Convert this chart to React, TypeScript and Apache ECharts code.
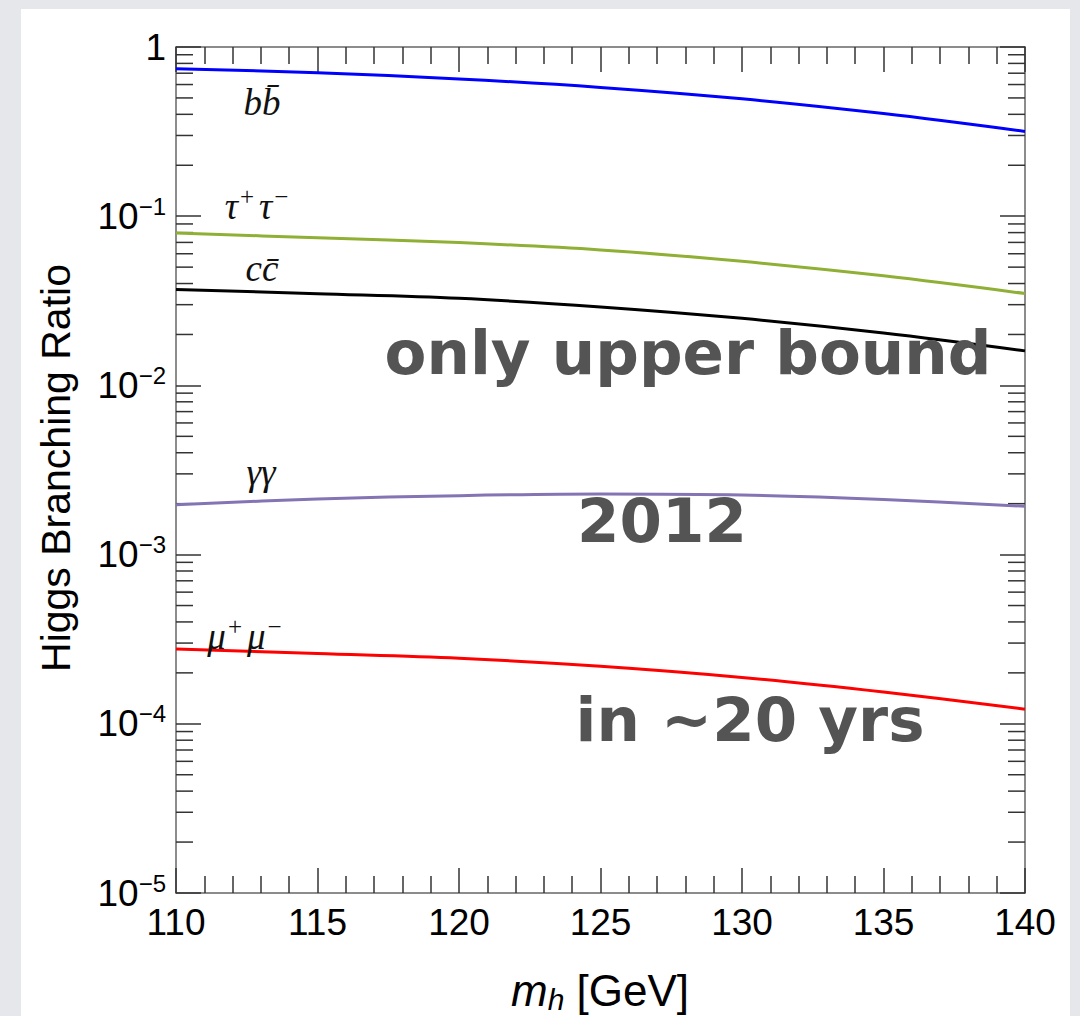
import React, { useEffect, useRef } from "react";
import * as echarts from "echarts";

const massValues = [110, 115, 120, 125, 130, 135, 140];
const bbValues = [0.745, 0.704, 0.648, 0.577, 0.494, 0.404, 0.317];
const tautauValues = [0.0795, 0.0746, 0.0698, 0.0632, 0.0541, 0.0444, 0.0349];
const ccValues = [0.0369, 0.0348, 0.0327, 0.0291, 0.0249, 0.0204, 0.016];
const gamgamValues = [0.00197, 0.00213, 0.00223, 0.00228, 0.00225, 0.00212, 0.00193];
const mumuValues = [0.000277, 0.00026, 0.000244, 0.000219, 0.000188, 0.000154, 0.000122];

const xTickLabels = ["110", "115", "120", "125", "130", "135", "140"];
const yDecades = [-5, -4, -3, -2, -1, 0];
const minorMultipliers = [2, 3, 4, 5, 6, 7, 8, 9];

const AXIS_COLOR = "#666";
const TICK_COLOR = "#333";

export default function App() {
  const ref = useRef<HTMLDivElement>(null);

  useEffect(() => {
    if (!ref.current) return;
    const chart = echarts.init(ref.current, null, { renderer: "svg" });

    const pairs = (vals: number[]) => massValues.map((m, i) => [m, vals[i]]);

    const minorTicks: number[][] = [];
    yDecades.slice(0, -1).forEach((d) => {
      minorMultipliers.forEach((m) => minorTicks.push([110, m * Math.pow(10, d)]));
    });

    const tickFont = "Liberation Sans, Arial, sans-serif";

    const lineSeries = (name: string, vals: number[], color: string) => ({
      name,
      type: "line",
      data: pairs(vals),
      smooth: 0.35,
      showSymbol: false,
      symbol: "none",
      lineStyle: { color, width: 3 },
      z: 5,
    });

    const xAxisBase = {
      type: "value",
      min: 110,
      max: 140,
      interval: 5,
      splitLine: { show: false },
      axisLine: { show: true, onZero: false, lineStyle: { color: AXIS_COLOR, width: 1.5 } },
      axisTick: { show: true, inside: true, length: 25, lineStyle: { color: TICK_COLOR, width: 1.5 } },
      minorTick: { show: true, splitNumber: 5, length: 17, lineStyle: { color: TICK_COLOR, width: 1.5 } },
    };

    const yAxisBase = {
      type: "log",
      logBase: 10,
      min: 1e-5,
      max: 1,
      interval: 1,
      splitLine: { show: false },
      axisLine: { show: true, onZero: false, lineStyle: { color: AXIS_COLOR, width: 1.5 } },
      axisTick: { show: true, inside: true, length: 25, lineStyle: { color: TICK_COLOR, width: 1.5 } },
    };

    const superRich = {
      b: { fontSize: 37, lineHeight: 44, fontFamily: tickFont, color: "#000" },
      s: { fontSize: 24, lineHeight: 24, verticalAlign: "top", fontFamily: tickFont, color: "#000" },
    };

    const labelFont = "Liberation Serif, Times New Roman, serif";
    const curveRich = {
      a: { fontSize: 37, fontStyle: "italic", fontFamily: labelFont, fill: "#111", lineHeight: 44 },
      s: {
        fontSize: 25,
        fontStyle: "normal",
        fontFamily: labelFont,
        fill: "#111",
        lineHeight: 22,
        verticalAlign: "top",
        padding: [0, 5, 0, 2],
      },
    };

    const bigFont = "DejaVu Sans, Verdana, sans-serif";

    const bigText = (text: string, x: number, y: number) => ({
      type: "text",
      z: 100,
      x,
      y,
      style: {
        text,
        fontSize: 61,
        fontWeight: "bold",
        fontFamily: bigFont,
        fill: "#545454",
        align: "center",
        verticalAlign: "middle",
      },
    });

    const curveLabel = (text: string, x: number, y: number) => ({
      type: "text",
      z: 100,
      x,
      y,
      style: { text, rich: curveRich, align: "center", verticalAlign: "middle" },
    });

    chart.setOption({
      animation: false,
      backgroundColor: "#e5e7ea",
      grid: { left: 176, right: 55, top: 47, bottom: 123, containLabel: false },
      xAxis: [
        {
          ...xAxisBase,
          position: "bottom",
          axisLabel: {
            show: true,
            margin: 11,
            fontSize: 37,
            fontFamily: tickFont,
            color: "#000",
            formatter: (v: number) => xTickLabels[massValues.indexOf(v)] ?? String(v),
          },
        },
        { ...xAxisBase, position: "top", axisLabel: { show: false } },
      ],
      yAxis: [
        {
          ...yAxisBase,
          position: "left",
          axisLabel: {
            show: true,
            margin: 10,
            fontFamily: tickFont,
            color: "#000",
            formatter: (v: number) => {
              const e = Math.round(Math.log10(v));
              if (e === 0) return "{b|1}";
              return "{b|10}{s|\u2212" + Math.abs(e) + "}";
            },
            rich: superRich,
          },
        },
        { ...yAxisBase, position: "right", axisLabel: { show: false } },
      ],
      series: [
        lineSeries("bb", bbValues, "#0000ff"),
        lineSeries("tautau", tautauValues, "#8fb034"),
        lineSeries("cc", ccValues, "#000000"),
        lineSeries("gamgam", gamgamValues, "#8474b4"),
        lineSeries("mumu", mumuValues, "#ff0000"),
        {
          type: "custom",
          name: "minorTicks",
          clip: false,
          silent: true,
          data: minorTicks,
          z: 3,
          renderItem: (params: any, api: any) => {
            const v = api.value(1);
            const l = api.coord([110, v]);
            const r = api.coord([140, v]);
            const st = { stroke: TICK_COLOR, lineWidth: 1.5 };
            return {
              type: "group",
              children: [
                { type: "line", shape: { x1: l[0], y1: l[1], x2: l[0] + 17, y2: l[1] }, style: st },
                { type: "line", shape: { x1: r[0] - 17, y1: r[1], x2: r[0], y2: r[1] }, style: st },
              ],
            };
          },
        },
      ],
      graphic: [
        {
          type: "rect",
          z: -10,
          silent: true,
          shape: { x: 21, y: 9, width: 1049, height: 1020 },
          style: { fill: "#ffffff" },
        },
        {
          type: "text",
          z: 100,
          x: 56,
          y: 468,
          rotation: Math.PI / 2,
          style: {
            text: "Higgs Branching Ratio",
            fontSize: 41,
            fontFamily: tickFont,
            fill: "#000",
            align: "center",
            verticalAlign: "middle",
          },
        },
        {
          type: "text",
          z: 100,
          x: 600,
          y: 990,
          style: {
            text: "{m|m}{h|h}{n| [GeV]}",
            align: "center",
            verticalAlign: "middle",
            rich: {
              m: { fontSize: 44, fontStyle: "italic", fontFamily: tickFont, fill: "#000", lineHeight: 48 },
              h: { fontSize: 30, fontStyle: "italic", fontFamily: tickFont, fill: "#000", lineHeight: 30, verticalAlign: "bottom" },
              n: { fontSize: 44, fontFamily: tickFont, fill: "#000", lineHeight: 48 },
            },
          },
        },
        curveLabel("{a|b}{a|b\u0304}", 262, 102),
        curveLabel("{a|\u03c4}{s|+}{a|\u03c4}{s|\u2212}", 259, 206),
        curveLabel("{a|c}{a|c\u0304}", 262, 268),
        curveLabel("{a|\u03b3\u03b3}", 261, 472),
        curveLabel("{a|\u03bc}{s|+}{a|\u03bc}{s|\u2212}", 247, 636),
        bigText("only upper bound", 688, 352),
        bigText("2012", 662, 520),
        bigText("in ~20 yrs", 750, 719),
      ],
    });

    return () => chart.dispose();
  }, []);

  return (
    <div
      ref={ref}
      style={{ position: "fixed", left: 0, top: 0, width: 1080, height: 1016 }}
    />
  );
}
